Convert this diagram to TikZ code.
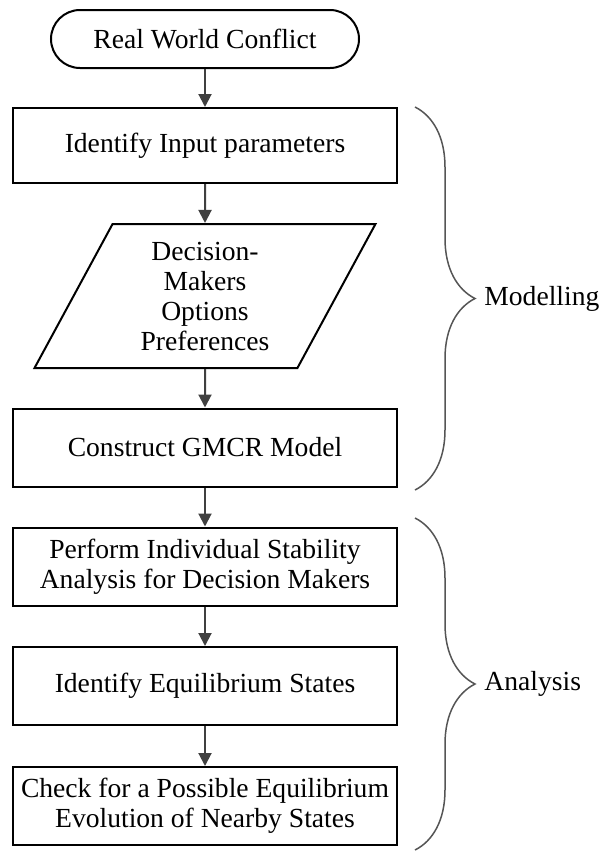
\documentclass[tikz,border=0pt]{standalone}
\usepackage{fontspec}
\setmainfont{Liberation Serif}
\usetikzlibrary{shapes.geometric,arrows.meta,decorations.pathreplacing}
\definecolor{arrowgray}{HTML}{404040}
\definecolor{bracegray}{HTML}{555555}
\begin{document}
\begin{tikzpicture}[x=0.5pt,y=-0.5pt,font=\fontsize{13.8}{15}\selectfont,
        stepbox/.style={draw,line width=1pt,minimum width=192pt,minimum height=39pt,align=center,inner sep=0pt},
        startbox/.style={draw,line width=1pt,minimum width=154pt,minimum height=29pt,rounded corners=14.5pt,inner sep=0pt},
        databox/.style={draw,line width=1pt,trapezium,trapezium left angle=63.4,trapezium right angle=116.6,
            trapezium stretches=true,minimum width=170.5pt,minimum height=72pt,align=center,inner sep=0pt},
        flow/.style={draw=arrowgray,line width=1pt,-{Triangle[length=6.5pt,width=6.5pt]}},
        brace/.style={decorate,decoration={brace,amplitude=30pt},draw=bracegray,line width=0.75pt},
        phase/.style={anchor=west,inner sep=0pt}]
    \useasboundingbox (0,0) rectangle (603,852);
    %% flow chart
    \node[startbox] (conflict) at (205,39)    {Real World Conflict};
    \node[stepbox,minimum height=37.5pt] (input) at (205,145.5) {Identify Input parameters};
    \node[databox]  (data)     at (205,296)   {Decision-\\Makers\\Options\\Preferences};
    \node[stepbox]  (gmcr)     at (205,447.5) {Construct GMCR Model};
    \node[stepbox]  (stab)     at (205,566.5) {Perform Individual Stability\\Analysis for Decision Makers};
    \node[stepbox]  (equil)    at (205,686)   {Identify Equilibrium States};
    \node[stepbox]  (check)    at (205,806)   {Check for a Possible Equilibrium\\Evolution of Nearby States};
    \foreach \a/\b in {conflict/input,input/data,data/gmcr,gmcr/stab,stab/equil,equil/check}
        \draw[flow] (\a) -- (\b);
    %% phases
    \coordinate (modtop) at (415,107);
    \coordinate (modbot) at (415,490);
    \coordinate (anatop) at (415,518);
    \coordinate (anabot) at (415,850);
    \draw[brace] (modtop) -- (modbot);
    \draw[brace] (anatop) -- (anabot);
    \node[phase] (modelling) at (484,298.5) {Modelling};
    \node[phase] (analysis)  at (484,684)   {Analysis};
\end{tikzpicture}
\end{document}
